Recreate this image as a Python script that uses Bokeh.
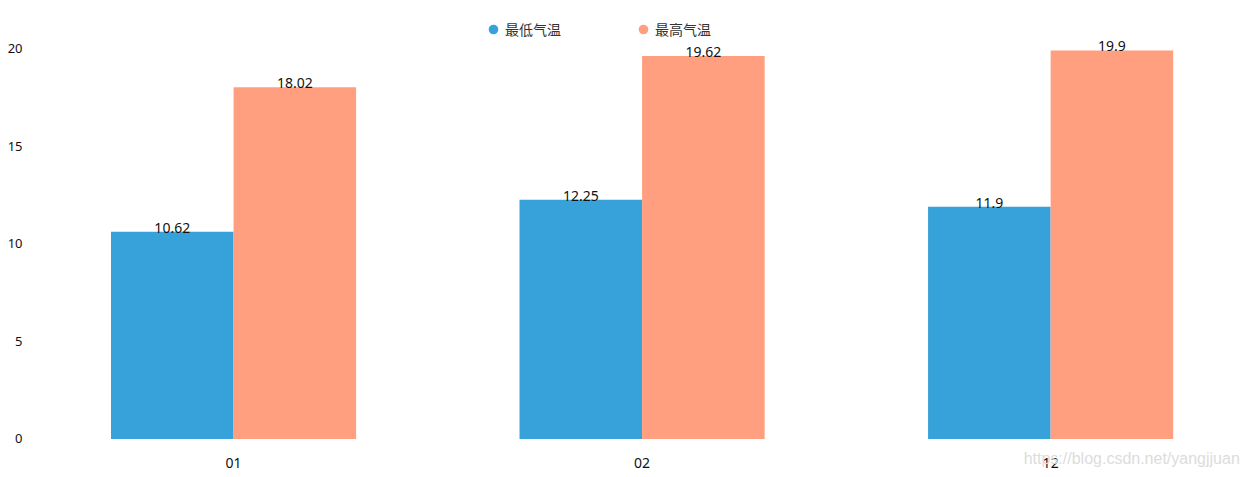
from bokeh.plotting import figure
from bokeh.models import ColumnDataSource, FixedTicker, Legend, LegendItem, Label, Range1d
from bokeh.core.properties import value
from bokeh.transform import dodge
from bokeh.embed import file_html
from bokeh.resources import INLINE

# ---- data ----
months = ["01", "02", "12"]
min_temp = [10.62, 12.25, 11.9]
max_temp = [18.02, 19.62, 19.9]
y_ticks = [0, 5, 10, 15, 20]
series_names = ["最低气温", "最高气温"]
colors = ["#37A2DA", "#FF9F7F"]
watermark = "https://blog.csdn.net/yangjjuan"

xs = list(range(len(months)))
src = ColumnDataSource(dict(
    x=xs,
    zero=[0] * len(xs),
    month=months,
    lo=min_temp,
    hi=max_temp,
    lo_txt=[f"{v:g}" for v in min_temp],
    hi_txt=[f"{v:g}" for v in max_temp],
))

BAR_W = 0.3
NUM_FONT = "Noto Sans"
CJK_FONT = "Noto Sans CJK SC"

p = figure(width=1245, height=477, output_backend="svg", toolbar_location=None,
           x_range=Range1d(-0.497, 2.477), y_range=Range1d(-1.972, 22.458),
           min_border_left=30, min_border_right=0, min_border_top=0, min_border_bottom=0)
p.outline_line_color = None
p.xgrid.visible = False
p.ygrid.visible = False
p.xaxis.visible = False
p.background_fill_color = "white"
p.border_fill_color = "white"

p.vbar(x=dodge("x", -BAR_W / 2), top="lo", bottom=0, width=BAR_W, source=src,
       fill_color=colors[0], line_color=None)
p.vbar(x=dodge("x", BAR_W / 2), top="hi", bottom=0, width=BAR_W, source=src,
       fill_color=colors[1], line_color=None)

p.text(x=dodge("x", -BAR_W / 2), y="lo", text="lo_txt", source=src, text_align="center",
       text_baseline="alphabetic", y_offset=-4, text_font=value(NUM_FONT),
       text_font_size="14px", text_color="#111")
p.text(x=dodge("x", BAR_W / 2), y="hi", text="hi_txt", source=src, text_align="center",
       text_baseline="alphabetic", y_offset=-4, text_font=value(NUM_FONT),
       text_font_size="14px", text_color="#111")

# category labels under the bars
p.text(x="x", y="zero", text="month", source=src, text_align="center",
       text_baseline="middle", y_offset=24, text_font=value(NUM_FONT),
       text_font_size="14px", text_color="#111")

# y axis
p.yaxis.ticker = FixedTicker(ticks=y_ticks)
p.yaxis.axis_line_color = None
p.yaxis.major_tick_line_color = None
p.yaxis.minor_tick_line_color = None
p.yaxis.major_label_text_font = NUM_FONT
p.yaxis.major_label_text_font_size = "13px"
p.yaxis.major_label_text_color = "#111"
p.yaxis.major_label_standoff = 2

# legend (circle markers); the dummy renderers hold no visible point
nan = float("nan")
leg_lo = p.scatter(x=[nan], y=[nan], marker="circle", size=10, fill_color=colors[0],
                   line_color=None)
leg_hi = p.scatter(x=[nan], y=[nan], marker="circle", size=10, fill_color=colors[1],
                   line_color=None)
legend = Legend(items=[LegendItem(label=series_names[0], renderers=[leg_lo]),
                       LegendItem(label=series_names[1], renderers=[leg_hi])],
                orientation="horizontal", location=(451, 436),
                padding=0, margin=0, spacing=26, glyph_width=24, glyph_height=24,
                label_height=14, label_width=100, label_standoff=0,
                label_text_font=CJK_FONT, label_text_font_size="14px",
                label_text_color="#333", border_line_color=None,
                background_fill_alpha=0)
p.add_layout(legend, "center")

p.add_layout(Label(x=1.934, y=-1.0, text=watermark, text_baseline="middle",
                   text_font="Liberation Sans", text_font_size="16px",
                   text_color="#dcdcdc"))

open("out.html", "w").write(file_html(p, INLINE))
